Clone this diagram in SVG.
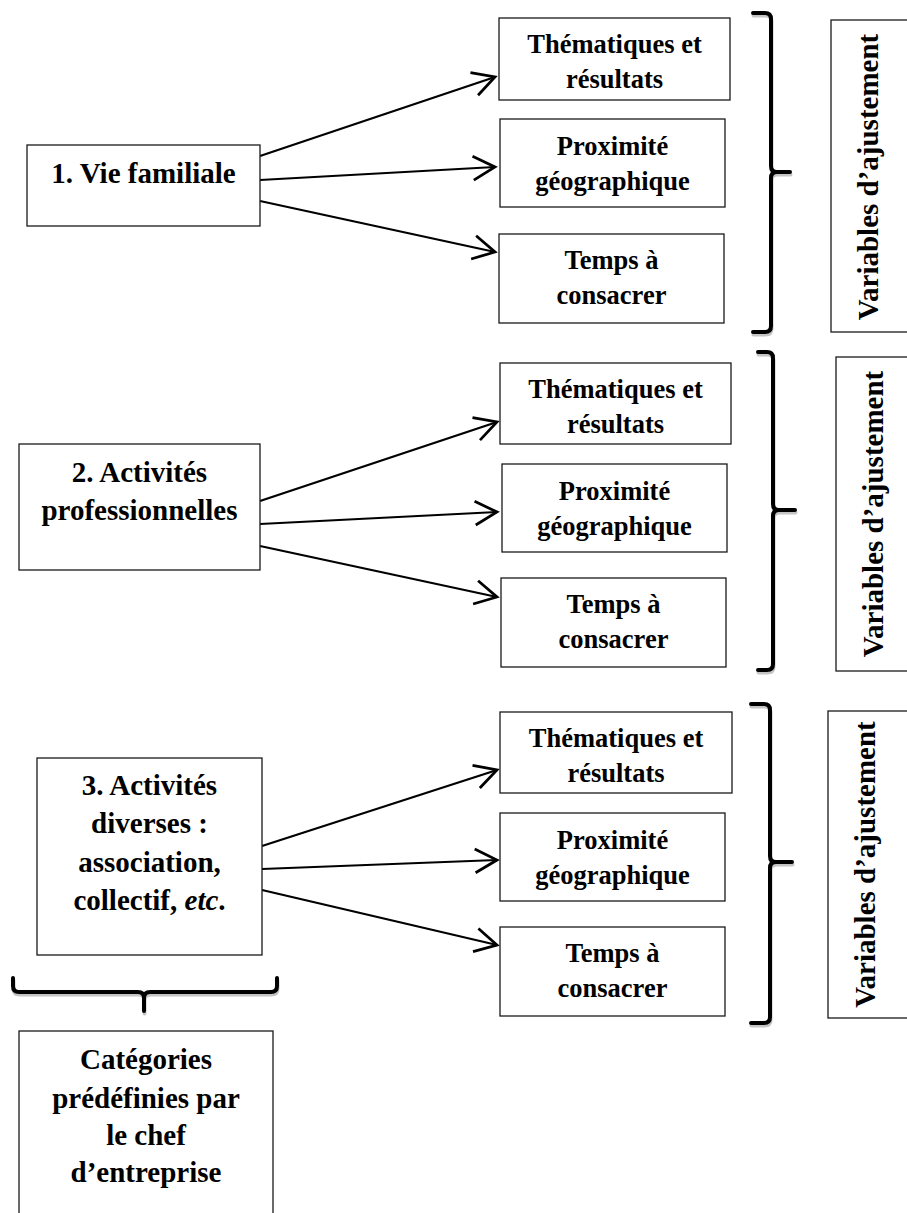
<svg xmlns="http://www.w3.org/2000/svg" width="907" height="1213" viewBox="0 0 907 1213">
<style>
.box{fill:#fff;stroke:#1a1a1a;stroke-width:1.3}
.tL{font-family:'Liberation Serif','Times New Roman',serif;font-weight:bold;font-size:29px;text-anchor:middle;fill:#000}
.tR{font-family:'Liberation Serif','Times New Roman',serif;font-weight:bold;font-size:26.5px;text-anchor:middle;fill:#000}
.conn{stroke:#000;stroke-width:2.2;fill:none;marker-end:url(#arr)}
.brace{fill:none;stroke:#000;stroke-width:4;stroke-linecap:round;stroke-linejoin:round}
.shadow{fill:none;stroke:#c4c4c4;stroke-width:4;stroke-linecap:round;stroke-linejoin:round}
</style>
<defs>
<marker id="arr" markerUnits="userSpaceOnUse" markerWidth="30" markerHeight="30" viewBox="-20 -12 24 24" refX="0" refY="0" orient="auto">
<path d="M-17.5,-9.5 L0,0 L-17.5,9.5" fill="none" stroke="#000" stroke-width="2.2" stroke-linejoin="miter"/>
</marker>
</defs>
<rect width="907" height="1213" fill="#fff"/>

<g id="connectors">
<line class="conn" x1="260" y1="156" x2="495" y2="77"/>
<line class="conn" x1="260" y1="180" x2="495" y2="167"/>
<line class="conn" x1="260" y1="201" x2="495" y2="252"/>
<line class="conn" x1="260" y1="501" x2="497" y2="422"/>
<line class="conn" x1="260" y1="524" x2="497" y2="512"/>
<line class="conn" x1="260" y1="546" x2="497" y2="597"/>
<line class="conn" x1="262" y1="846" x2="497" y2="770"/>
<line class="conn" x1="262" y1="869" x2="497" y2="860"/>
<line class="conn" x1="262" y1="890" x2="497" y2="945"/>
</g>

<g id="braces">
<g transform="translate(0.5,2.5)">
<path class="shadow" d="M753,13 H765 Q771,13 771,19 V166 Q771,172 777,172 H790 M777,172 Q771,172 771,178 V326 Q771,332 765,332 H753"/>
<path class="shadow" d="M758,352 H767 Q773,352 773,358 V504 Q773,510 779,510 H795 M779,510 Q773,510 773,516 V664 Q773,670 767,670 H758"/>
<path class="shadow" d="M751,704 H764 Q770,704 770,710 V856 Q770,862 776,862 H792 M776,862 Q770,862 770,868 V1017 Q770,1023 764,1023 H751"/>
<path class="shadow" d="M13,978 V986 Q13,992 19,992 H138 Q144,992 144,998 V1011 M144,998 Q144,992 150,992 H271 Q277,992 277,986 V978"/>
</g>
<path class="brace" d="M753,13 H765 Q771,13 771,19 V166 Q771,172 777,172 H790 M777,172 Q771,172 771,178 V326 Q771,332 765,332 H753"/>
<path class="brace" d="M758,352 H767 Q773,352 773,358 V504 Q773,510 779,510 H795 M779,510 Q773,510 773,516 V664 Q773,670 767,670 H758"/>
<path class="brace" d="M751,704 H764 Q770,704 770,710 V856 Q770,862 776,862 H792 M776,862 Q770,862 770,868 V1017 Q770,1023 764,1023 H751"/>
<path class="brace" d="M13,978 V986 Q13,992 19,992 H138 Q144,992 144,998 V1011 M144,998 Q144,992 150,992 H271 Q277,992 277,986 V978"/>
</g>

<g id="n1">
<rect class="box" x="27" y="145" width="233" height="81"/>
<text class="tL" x="143.5" y="183">1. Vie familiale</text>
</g>
<g id="n1a">
<rect class="box" x="499" y="18" width="231" height="82"/>
<text class="tR" x="614.5" y="53">Thématiques et</text>
<text class="tR" x="614.5" y="88">résultats</text>
</g>
<g id="n1b">
<rect class="box" x="500" y="119" width="225" height="88"/>
<text class="tR" x="612.5" y="155">Proximité</text>
<text class="tR" x="612.5" y="190">géographique</text>
</g>
<g id="n1c">
<rect class="box" x="499" y="234" width="225" height="89"/>
<text class="tR" x="611.5" y="269">Temps à</text>
<text class="tR" x="611.5" y="304">consacrer</text>
</g>
<g id="v1">
<rect class="box" x="831" y="20" width="90" height="312"/>
<text class="tL" transform="translate(878,177) rotate(-90)">Variables d’ajustement</text>
</g>

<g id="n2">
<rect class="box" x="19" y="444" width="241" height="126"/>
<text class="tL" x="139.5" y="482">2. Activités</text>
<text class="tL" x="139.5" y="520">professionnelles</text>
</g>
<g id="n2a">
<rect class="box" x="500" y="363" width="231" height="81"/>
<text class="tR" x="615.5" y="398">Thématiques et</text>
<text class="tR" x="615.5" y="433">résultats</text>
</g>
<g id="n2b">
<rect class="box" x="502" y="464" width="225" height="88"/>
<text class="tR" x="614.5" y="500">Proximité</text>
<text class="tR" x="614.5" y="535">géographique</text>
</g>
<g id="n2c">
<rect class="box" x="501" y="578" width="225" height="89"/>
<text class="tR" x="613.5" y="613">Temps à</text>
<text class="tR" x="613.5" y="648">consacrer</text>
</g>
<g id="v2">
<rect class="box" x="836" y="357" width="90" height="314"/>
<text class="tL" transform="translate(883,514) rotate(-90)">Variables d’ajustement</text>
</g>

<g id="n3">
<rect class="box" x="37" y="758" width="225" height="197"/>
<text class="tL" x="149.5" y="795">3. Activités</text>
<text class="tL" x="149.5" y="833">diverses :</text>
<text class="tL" x="149.5" y="872">association,</text>
<text class="tL" x="149.5" y="910">collectif, <tspan font-style="italic">etc</tspan>.</text>
</g>
<g id="n3a">
<rect class="box" x="500" y="712" width="232" height="81"/>
<text class="tR" x="616" y="747">Thématiques et</text>
<text class="tR" x="616" y="782">résultats</text>
</g>
<g id="n3b">
<rect class="box" x="500" y="813" width="225" height="88"/>
<text class="tR" x="612.5" y="849">Proximité</text>
<text class="tR" x="612.5" y="884">géographique</text>
</g>
<g id="n3c">
<rect class="box" x="500" y="927" width="225" height="89"/>
<text class="tR" x="612.5" y="962">Temps à</text>
<text class="tR" x="612.5" y="997">consacrer</text>
</g>
<g id="v3">
<rect class="box" x="828" y="711" width="90" height="307"/>
<text class="tL" transform="translate(875,864.5) rotate(-90)">Variables d’ajustement</text>
</g>

<g id="n4">
<rect class="box" x="19" y="1031" width="254" height="200"/>
<text class="tL" x="146" y="1069">Catégories</text>
<text class="tL" x="146" y="1108">prédéfinies par</text>
<text class="tL" x="146" y="1145">le chef</text>
<text class="tL" x="146" y="1182">d’entreprise</text>
</g>
</svg>
